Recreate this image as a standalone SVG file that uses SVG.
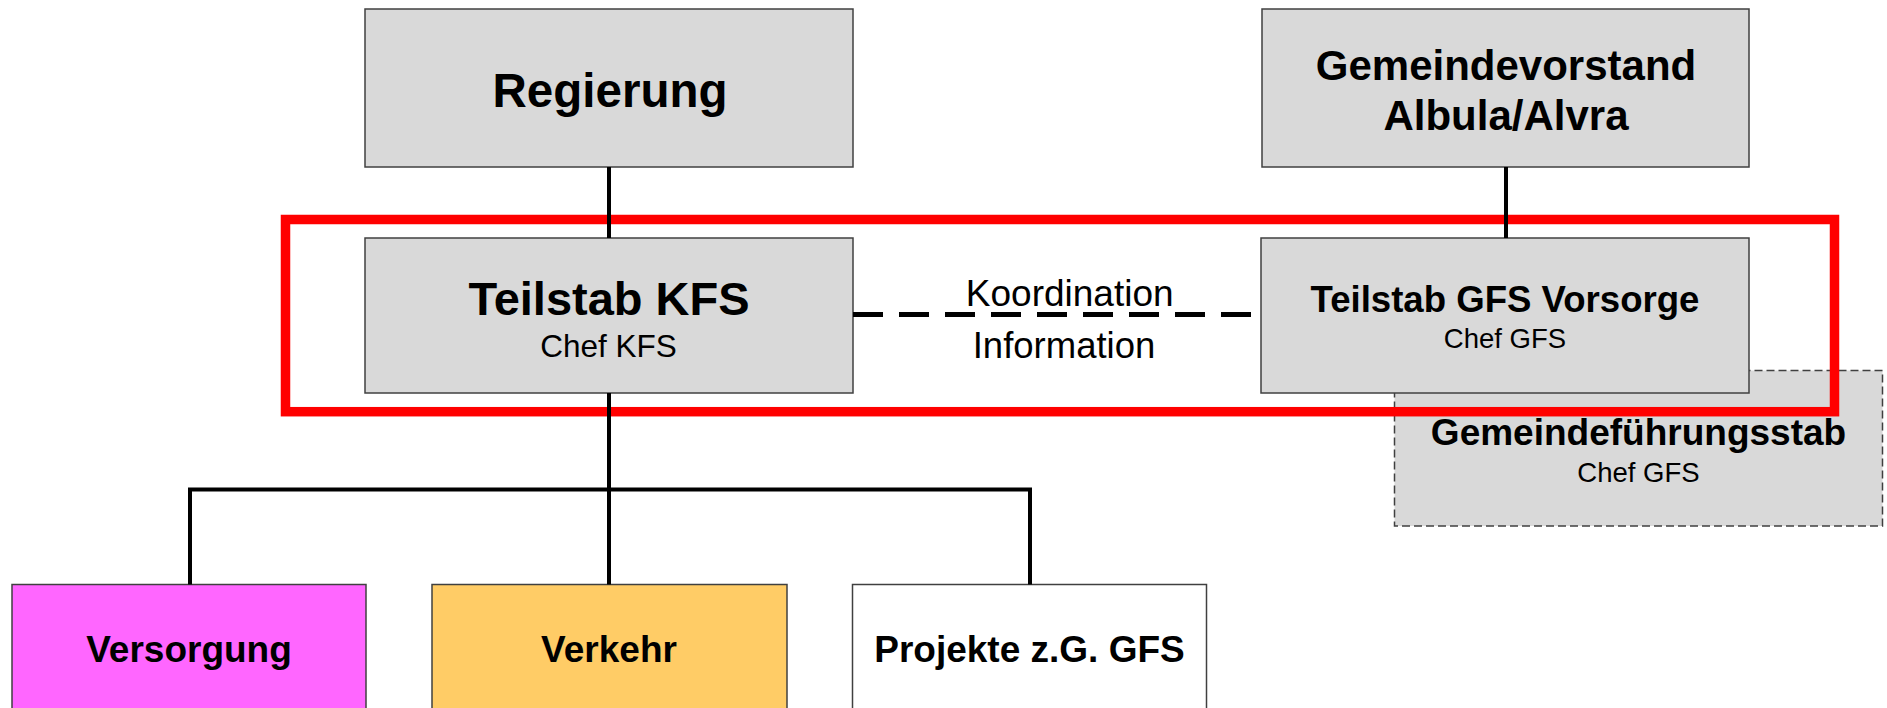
<svg xmlns="http://www.w3.org/2000/svg" width="1887" height="708" viewBox="0 0 1887 708">
<style>
  .box { stroke: #404040; stroke-width: 1.5; }
  .gray { fill: #D9D9D9; }
  .dashbox { fill: #D9D9D9; stroke: #404040; stroke-width: 1.5; stroke-dasharray: 8 4; }
  .conn { stroke: #000; stroke-width: 4; fill: none; }
  .coord { stroke: #000; stroke-width: 5; stroke-dasharray: 30 16; fill: none; }
  .t { font-family: "Liberation Sans", Arial, sans-serif; fill: #000; text-anchor: middle; }
  .b { font-weight: bold; }
</style>
<rect width="1887" height="708" fill="#fff"/>

<g id="gemeindefuehrungsstab">
  <rect class="dashbox" x="1394.5" y="370.5" width="488" height="155.5"/>
  <text class="t b" x="1638.5" y="445" font-size="37">Gemeindeführungsstab</text>
  <text class="t" x="1638.5" y="481.7" font-size="27.5">Chef GFS</text>
</g>

<g id="regierung">
  <rect class="box gray" x="365" y="9" width="488" height="158"/>
  <text class="t b" x="610" y="106.7" font-size="47.5">Regierung</text>
</g>

<g id="gemeindevorstand">
  <rect class="box gray" x="1262" y="9" width="487" height="158"/>
  <text class="t b" x="1506" y="80" font-size="42">Gemeindevorstand</text>
  <text class="t b" x="1506" y="130" font-size="42">Albula/Alvra</text>
</g>

<g id="teilstab-kfs">
  <rect class="box gray" x="365" y="238" width="488" height="155"/>
  <text class="t b" x="609" y="315" font-size="47">Teilstab KFS</text>
  <text class="t" x="608.5" y="356.7" font-size="31.5">Chef KFS</text>
</g>

<g id="teilstab-gfs">
  <rect class="box gray" x="1261" y="238" width="488" height="155"/>
  <text class="t b" x="1505" y="311.7" font-size="36.6">Teilstab GFS Vorsorge</text>
  <text class="t" x="1505" y="348.3" font-size="27.5">Chef GFS</text>
</g>

<g id="highlight">
  <rect x="285.5" y="219.5" width="1549" height="192.2" fill="none" stroke="#FF0000" stroke-width="9.5"/>
</g>

<g id="versorgung">
  <rect class="box" fill="#FF66FF" x="12" y="584.5" width="354" height="140"/>
  <text class="t b" x="189" y="661.7" font-size="37">Versorgung</text>
</g>

<g id="verkehr">
  <rect class="box" fill="#FFCC66" x="432" y="584.5" width="355" height="140"/>
  <text class="t b" x="609" y="661.7" font-size="37">Verkehr</text>
</g>

<g id="projekte">
  <rect class="box" fill="#FFFFFF" x="852.5" y="584.5" width="354" height="140"/>
  <text class="t b" x="1029.5" y="661.7" font-size="37">Projekte z.G. GFS</text>
</g>

<g id="connectors">
  <line class="conn" x1="609" y1="167" x2="609" y2="238"/>
  <line class="conn" x1="1506" y1="167" x2="1506" y2="238"/>
  <line class="conn" x1="609" y1="393" x2="609" y2="584.5"/>
  <polyline class="conn" points="190,584.5 190,489.5 1030,489.5 1030,584.5"/>
  <line class="coord" x1="853" y1="314.5" x2="1254" y2="314.5"/>
  <text class="t" x="1069.7" y="305.7" font-size="37">Koordination</text>
  <text class="t" x="1064" y="357.7" font-size="36.5">Information</text>
</g>
</svg>
